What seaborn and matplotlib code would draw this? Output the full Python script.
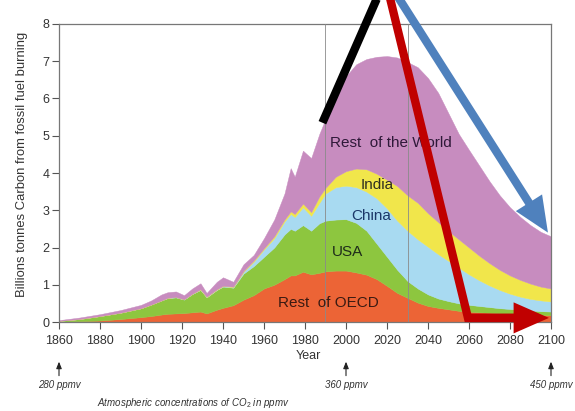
import numpy as np
import matplotlib
matplotlib.use("Agg")
import matplotlib.pyplot as plt
import seaborn as sns

# -----------------------------
# Data (billions tonnes carbon, per region, stacked)
# -----------------------------
years = [1860, 1870, 1880, 1890, 1900, 1905, 1910, 1913, 1917, 1921,
         1925, 1929, 1932, 1937, 1940, 1945, 1950, 1955, 1960, 1965,
         1970, 1973, 1975, 1979, 1983, 1987, 1990, 1995, 2000, 2005,
         2010, 2015, 2020, 2025, 2030, 2035, 2040, 2045, 2050, 2055,
         2060, 2065, 2070, 2075, 2080, 2085, 2090, 2095, 2100]

rest_oecd = [0.01, 0.02, 0.04, 0.08, 0.13, 0.16, 0.20, 0.22, 0.23, 0.24,
             0.26, 0.28, 0.23, 0.33, 0.38, 0.45, 0.60, 0.72, 0.90, 1.00,
             1.15, 1.25, 1.25, 1.35, 1.28, 1.32, 1.36, 1.38, 1.38, 1.33,
             1.27, 1.15, 0.97, 0.78, 0.65, 0.52, 0.43, 0.38, 0.34, 0.30,
             0.28, 0.26, 0.25, 0.23, 0.22, 0.21, 0.20, 0.19, 0.18]
usa = [0.02, 0.06, 0.12, 0.17, 0.24, 0.31, 0.38, 0.42, 0.43, 0.36,
       0.49, 0.58, 0.43, 0.53, 0.57, 0.47, 0.70, 0.78, 0.85, 1.00,
       1.20, 1.25, 1.20, 1.25, 1.17, 1.33, 1.36, 1.37, 1.38, 1.33,
       1.18, 0.95, 0.78, 0.62, 0.45, 0.38, 0.31, 0.25, 0.22, 0.20,
       0.18, 0.17, 0.15, 0.14, 0.13, 0.12, 0.11, 0.10, 0.10]
china = [0.00, 0.00, 0.00, 0.00, 0.00, 0.00, 0.00, 0.01, 0.01, 0.01,
         0.01, 0.01, 0.01, 0.01, 0.01, 0.02, 0.05, 0.12, 0.20, 0.25,
         0.35, 0.40, 0.37, 0.48, 0.40, 0.55, 0.73, 0.87, 0.90, 0.96,
         1.05, 1.22, 1.30, 1.32, 1.35, 1.32, 1.28, 1.19, 1.08, 0.96,
         0.82, 0.69, 0.58, 0.49, 0.41, 0.35, 0.31, 0.29, 0.27]
india = [0.00, 0.00, 0.00, 0.00, 0.00, 0.00, 0.00, 0.00, 0.00, 0.00,
         0.00, 0.01, 0.01, 0.01, 0.01, 0.01, 0.02, 0.03, 0.03, 0.05,
         0.05, 0.07, 0.08, 0.10, 0.10, 0.17, 0.15, 0.28, 0.39, 0.50,
         0.60, 0.66, 0.77, 0.93, 0.95, 0.98, 0.90, 0.86, 0.80, 0.76,
         0.72, 0.66, 0.60, 0.54, 0.49, 0.45, 0.41, 0.37, 0.35]
rest_world = [0.02, 0.04, 0.05, 0.07, 0.09, 0.11, 0.16, 0.15, 0.15, 0.11,
              0.14, 0.16, 0.10, 0.20, 0.23, 0.13, 0.18, 0.15, 0.27, 0.45,
              0.70, 1.16, 1.00, 1.42, 1.45, 1.68, 1.85, 2.20, 2.55, 2.80,
              2.96, 3.14, 3.32, 3.45, 3.58, 3.64, 3.63, 3.47, 3.16, 2.83,
              2.62, 2.42, 2.20, 2.00, 1.83, 1.69, 1.57, 1.47, 1.40]

region_names = ["Rest  of OECD", "USA", "China", "India", "Rest  of the World"]
region_colors = ["#EC6436", "#8DC63F", "#A8DAF1", "#F1E64B", "#C78CBF"]
label_pos = [(1991.6, 0.52), (2000.7, 1.87), (2012.5, 2.85), (2015, 3.68), (2022, 4.81)]
label_colors = ["#3a1a12", "#1e2c1a", "#1b3768", "#2e2e20", "#2e1838"]

x_ticks = list(range(1860, 2101, 20))
y_ticks = list(range(0, 9))
ppmv_years = [1860, 2000, 2100]
ppmv_labels = ["280 ppmv", "360 ppmv", "450 ppmv"]

# -----------------------------
# Style
# -----------------------------
sns.set_theme(style="ticks")
plt.rcParams["font.family"] = ["Liberation Sans", "DejaVu Sans"]
plt.rcParams["mathtext.fontset"] = "custom"
plt.rcParams["mathtext.rm"] = "Liberation Sans"
plt.rcParams["mathtext.it"] = "Liberation Sans:italic"

fig = plt.figure(figsize=(5.75, 4.11), dpi=100)
ax = fig.add_axes([59 / 575, 89 / 411, 492 / 575, 298 / 411])

palette = sns.color_palette(region_colors)
ax.stackplot(years, rest_oecd, usa, china, india, rest_world,
             colors=palette, linewidth=0.3, edgecolor="face")

for y in (1990, 2030):
    ax.axvline(y, color="#8a8a8a", lw=0.6, zorder=3)

for name, (lx, ly), c in zip(region_names, label_pos, label_colors):
    ax.text(lx, ly, name, ha="center", va="center", fontsize=11, color=c, zorder=4)

ax.set_xlim(1860, 2100)
ax.set_ylim(0, 8)
ax.set_xticks(x_ticks)
ax.set_yticks(y_ticks)
ax.tick_params(axis="both", direction="out", length=5, width=0.8, color="#555555",
               labelsize=9, labelcolor="#333333")
ax.tick_params(axis="y", pad=2)
ax.tick_params(axis="x", pad=4)
for sp in ax.spines.values():
    sp.set_color("#777777")
    sp.set_linewidth(0.9)

ax.set_xlabel("Year", fontsize=9, color="#333333")
ax.xaxis.set_label_coords(0.506, -0.095)
ax.set_ylabel("Billions tonnes Carbon from fossil fuel burning", fontsize=9.4, color="#333333")
ax.yaxis.set_label_coords(-0.062, 0.53)

# CO2 concentration markers under the axis
xt = ax.get_xaxis_transform()
for yr, lab in zip(ppmv_years, ppmv_labels):
    ax.annotate("", xy=(yr, -0.133), xytext=(yr, -0.18), xycoords=xt, textcoords=xt,
                arrowprops=dict(arrowstyle="-|>,head_length=0.5,head_width=0.2",
                                color="#222222", lw=0.8, mutation_scale=8,
                                shrinkA=0, shrinkB=0),
                annotation_clip=False)
    ax.text(yr, -0.212, lab, transform=xt, ha="center", va="center",
            fontsize=7, style="italic", color="#333333", clip_on=False)
ax.text(1878.5, -0.272, "Atmospheric concentrations of CO$_2$ in ppmv", transform=xt,
        ha="left", va="center", fontsize=7, style="italic", color="#333333", clip_on=False)

# Overlaid trend arrows
ax.plot([1988.5, 2016], [5.35, 8.8], color="black", lw=6, solid_capstyle="butt",
        clip_on=False, zorder=6)
ax.plot([2021, 2059.5, 2085], [8.8, 0.11, 0.11], color="#C00000", lw=6,
        solid_joinstyle="miter", solid_capstyle="butt", clip_on=False, zorder=6)
head = "-|>,head_length=0.75,head_width=0.33"
ax.annotate("", xy=(2099, 0.11), xytext=(2059.5, 0.11),
            arrowprops=dict(arrowstyle=head, color="#C00000", lw=6, mutation_scale=20,
                            shrinkA=0, shrinkB=0, joinstyle="miter", capstyle="butt"),
            annotation_clip=False, zorder=6)
ax.annotate("", xy=(2098.5, 2.4), xytext=(2024.5, 8.8),
            arrowprops=dict(arrowstyle=head, color="#4F81BD", lw=6, mutation_scale=20,
                            shrinkA=0, shrinkB=0, joinstyle="miter", capstyle="butt"),
            annotation_clip=False, zorder=6)

fig.savefig("out.png", dpi=100)
